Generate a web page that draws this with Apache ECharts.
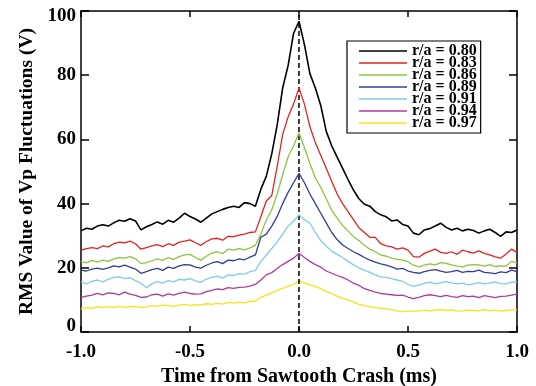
<!DOCTYPE html>
<html>
<head>
<meta charset="utf-8">
<script src="https://cdn.jsdelivr.net/npm/echarts@6/dist/echarts.min.js"></script>
<style>html,body{margin:0;padding:0;background:#fff}#c{width:536px;height:386px}</style>
</head>
<body>
<div id="c"></div>
<script>
var times = [-1.000,-0.975,-0.950,-0.925,-0.900,-0.875,-0.850,-0.825,-0.800,-0.775,
  -0.750,-0.725,-0.700,-0.675,-0.650,-0.625,-0.600,-0.575,-0.550,-0.525,
  -0.500,-0.475,-0.450,-0.425,-0.400,-0.375,-0.350,-0.325,-0.300,-0.275,
  -0.250,-0.225,-0.200,-0.175,-0.150,-0.125,-0.100,-0.075,-0.050,-0.025,
  0.000,0.025,0.050,0.075,0.100,0.125,0.150,0.175,0.200,0.225,
  0.250,0.275,0.300,0.325,0.350,0.375,0.400,0.425,0.450,0.475,
  0.500,0.525,0.550,0.575,0.600,0.625,0.650,0.675,0.700,0.725,
  0.750,0.775,0.800,0.825,0.850,0.875,0.900,0.925,0.950,0.975,1.000];

var labels = ['r/a = 0.80','r/a = 0.83','r/a = 0.86','r/a = 0.89','r/a = 0.91','r/a = 0.94','r/a = 0.97'];
var colors = ['#000000','#e3231c','#8cc63e','#2f3f98','#7fcde6','#b2399b','#f3e61a'];

var ra080 = [31.5,32.3,32.0,33.0,33.4,33.0,34.0,34.8,34.5,35.3,
  34.6,31.8,32.8,33.5,34.3,33.6,34.8,34.2,35.5,37.0,
  36.0,35.2,34.2,35.5,36.8,37.5,38.2,38.8,39.2,38.8,
  40.3,40.0,39.2,44.5,48.5,55.5,64.5,76.0,83.0,93.0,
  96.8,89.5,80.5,76.0,70.5,62.5,58.0,54.5,51.0,47.5,
  44.2,41.5,39.8,39.2,37.5,36.5,35.9,34.6,34.9,33.5,
  33.0,30.8,30.3,31.8,32.2,33.0,33.9,32.6,31.8,32.3,
  31.5,32.0,31.6,30.8,31.5,32.0,31.0,29.8,31.2,31.0,31.8];
var ra083 = [25.5,26.0,26.3,26.0,26.8,26.5,27.5,28.0,27.8,28.3,
  27.5,25.8,26.3,26.8,27.2,26.6,27.5,27.0,28.0,28.3,
  28.7,27.8,27.0,28.2,29.0,29.2,28.6,29.8,29.7,30.2,
  30.5,31.0,31.2,35.9,40.8,42.5,51.5,61.5,67.0,71.0,
  76.0,71.0,64.0,59.0,55.0,51.0,47.0,43.0,40.0,37.5,
  35.0,32.5,31.0,29.5,29.5,27.5,26.8,26.5,25.8,26.2,
  25.5,23.5,23.3,24.5,25.2,25.8,24.8,24.5,25.0,24.2,
  25.5,25.0,24.6,25.3,24.5,24.0,23.4,23.0,24.3,25.8,24.8];
var ra086 = [21.9,21.5,22.3,21.8,22.4,22.0,22.8,23.2,23.0,23.5,
  22.8,21.3,21.6,22.2,22.8,22.3,23.2,22.6,23.5,24.0,
  24.2,23.2,22.4,23.6,24.6,25.0,24.4,25.8,25.5,26.0,
  25.6,26.2,27.0,30.5,34.9,38.0,43.0,49.0,54.5,58.0,
  62.0,57.5,52.5,48.0,45.0,41.5,38.0,35.5,33.2,31.5,
  29.7,28.5,27.0,25.8,25.0,24.0,23.6,23.0,22.6,22.4,
  21.9,20.8,20.3,20.8,21.2,20.9,21.6,21.4,20.9,20.5,
  20.3,20.8,21.0,20.9,20.5,21.0,20.4,20.6,20.5,22.0,21.5];
var ra089 = [19.3,19.0,19.6,19.9,19.5,20.0,20.6,20.3,20.8,20.2,
  19.6,18.3,18.8,19.4,19.8,19.2,20.2,19.8,20.6,21.0,
  20.9,20.2,19.9,20.8,21.5,21.9,21.3,22.4,22.2,22.8,
  22.5,23.3,24.0,29.5,30.5,33.0,36.0,40.0,43.5,46.5,
  49.4,46.5,43.0,40.0,37.0,34.0,31.0,28.8,27.1,26.0,
  25.0,24.2,23.2,22.4,21.8,21.2,20.8,20.3,19.6,19.8,
  19.0,18.6,18.3,18.8,19.2,19.4,19.0,18.6,18.8,19.2,
  18.6,18.9,18.8,19.3,18.6,18.4,18.2,18.7,18.5,19.3,18.8];
var ra091 = [15.7,15.0,15.8,16.2,15.6,16.4,17.0,17.2,16.6,16.9,
  16.0,15.2,13.8,15.0,15.7,15.2,16.0,15.6,16.4,16.2,
  16.6,15.9,15.5,16.5,17.0,17.4,16.8,17.8,17.6,18.2,
  18.0,18.8,19.2,21.9,24.0,26.0,28.0,30.5,33.0,34.5,
  36.5,35.0,33.9,31.0,28.5,26.8,25.2,24.2,23.2,22.0,
  20.9,20.0,19.2,18.6,17.8,17.2,17.0,16.6,16.2,15.8,
  14.8,14.2,14.6,15.2,15.5,15.0,15.4,15.7,15.3,15.0,
  15.2,14.7,15.0,15.4,15.0,15.2,15.6,15.1,15.0,15.5,15.6];
var ra094 = [10.8,11.2,11.5,12.0,11.6,12.2,12.0,11.6,12.4,11.8,
  11.4,10.8,10.9,11.6,11.8,11.2,11.9,11.5,12.0,12.4,
  12.0,11.8,11.9,12.6,13.0,13.4,13.2,13.8,13.6,13.9,
  14.0,14.3,14.8,16.2,17.8,18.5,19.8,21.0,22.0,23.0,
  24.5,23.2,22.0,21.0,20.2,19.0,18.3,17.6,17.0,16.2,
  15.2,14.5,13.5,13.0,12.4,12.0,11.8,11.6,11.4,11.5,
  10.9,10.4,10.8,11.3,11.6,11.3,11.0,11.4,11.0,10.8,
  11.3,11.0,11.2,10.7,11.3,11.0,10.7,11.1,11.2,11.5,11.8];
var ra097 = [7.2,7.6,7.4,7.8,7.6,7.9,7.7,8.0,7.7,7.9,
  8.0,7.6,7.8,8.2,8.0,8.4,8.2,8.0,8.4,8.6,
  8.3,8.5,8.4,8.8,8.6,8.9,8.7,9.2,9.0,9.3,
  9.1,9.5,9.6,10.8,11.5,12.2,13.0,13.6,14.2,14.8,
  16.0,15.2,14.6,14.2,13.5,12.6,12.0,11.2,10.5,10.0,
  9.4,8.6,8.2,7.9,7.6,7.4,7.2,7.0,6.6,6.3,
  6.6,6.4,6.6,6.8,6.5,6.9,7.0,6.7,6.9,6.5,
  6.6,6.8,6.7,6.6,7.0,6.6,6.8,6.5,6.7,6.9,6.9];

var xTicks = [-1.0, -0.5, 0.0, 0.5, 1.0];
var yTicks = [0, 20, 40, 60, 80, 100];

var allSeries = [ra080, ra083, ra086, ra089, ra091, ra094, ra097];
var font = '"Liberation Serif", "Times New Roman", serif';

var series = allSeries.map(function (vals, k) {
  var s = {
    name: labels[k],
    type: 'line',
    data: vals.map(function (v, i) { return [times[i], v]; }),
    symbol: 'none',
    showSymbol: false,
    lineStyle: { color: colors[k], width: k === 0 ? 1.6 : 1.3 },
    itemStyle: { color: colors[k] },
    z: 10 - k,
    animation: false
  };
  if (k === 0) {
    s.markLine = {
      silent: true,
      symbol: 'none',
      label: { show: false },
      lineStyle: { color: '#000', type: [5, 3], width: 1.5 },
      data: [{ xAxis: 0 }],
      animation: false
    };
  }
  return s;
});

var tickLine = { color: '#000', width: 1.5 };
var labelFont = { fontFamily: font, fontWeight: 'bold', fontSize: 19, color: '#000' };
var chart = echarts.init(document.getElementById('c'));
chart.setOption({
  animation: false,
  backgroundColor: '#fff',
  grid: { left: 81, right: 19, top: 11, bottom: 54, containLabel: false, outerBoundsMode: 'none' },
  legend: {
    data: labels.map(function (n, k) { return { name: n, icon: 'rect', itemStyle: { color: colors[k] } }; }),
    orient: 'vertical',
    left: 347, top: 41,
    backgroundColor: '#fff',
    borderColor: '#000', borderWidth: 1.2,
    padding: [2, 4, 2, 12],
    itemWidth: 48, itemHeight: 1.6, itemGap: -4,
    textStyle: { fontFamily: font, fontWeight: 'bold', fontSize: 16, color: '#000' }
  },
  xAxis: [{
    type: 'value', min: xTicks[0], max: xTicks[xTicks.length - 1], interval: 0.5,
    name: 'Time from Sawtooth Crash (ms)', nameLocation: 'middle', nameGap: 29,
    nameTextStyle: { fontFamily: font, fontWeight: 'bold', fontSize: 20, color: '#000' },
    axisLine: { onZero: false, lineStyle: tickLine },
    axisTick: { inside: true, length: 6, lineStyle: tickLine },
    axisLabel: Object.assign({ margin: 11, formatter: function (v) { return v.toFixed(1); } }, labelFont),
    splitLine: { show: false }
  }, {
    type: 'value', position: 'top', min: xTicks[0], max: xTicks[xTicks.length - 1], interval: 0.5,
    axisLine: { onZero: false, lineStyle: tickLine },
    axisTick: { inside: true, length: 6, lineStyle: tickLine },
    axisLabel: { show: false }, splitLine: { show: false }
  }],
  yAxis: [{
    type: 'value', min: yTicks[0], max: yTicks[yTicks.length - 1], interval: 20,
    name: 'RMS Value of Vp Fluctuations (V)', nameLocation: 'middle', nameGap: 43,
    nameTextStyle: { fontFamily: font, fontWeight: 'bold', fontSize: 19.5, color: '#000' },
    axisLine: { show: true, onZero: false, lineStyle: tickLine },
    axisTick: { show: true, inside: true, length: 8, lineStyle: tickLine },
    axisLabel: Object.assign({
      margin: 5,
      formatter: function (v) {
        if (v === yTicks[yTicks.length - 1]) return '{top|' + v + '}';
        if (v === yTicks[0]) return '{bot|' + v + '}';
        return String(v);
      },
      rich: {
        top: Object.assign({ padding: [10, 0, 0, 0] }, labelFont),
        bot: Object.assign({ padding: [0, 0, 12, 0] }, labelFont)
      }
    }, labelFont),
    splitLine: { show: false }
  }, {
    type: 'value', position: 'right', min: yTicks[0], max: yTicks[yTicks.length - 1], interval: 20,
    axisLine: { show: true, onZero: false, lineStyle: tickLine },
    axisTick: { show: true, inside: true, length: 8, lineStyle: tickLine },
    axisLabel: { show: false }, splitLine: { show: false }
  }],
  series: series
});
</script>
</body>
</html>
